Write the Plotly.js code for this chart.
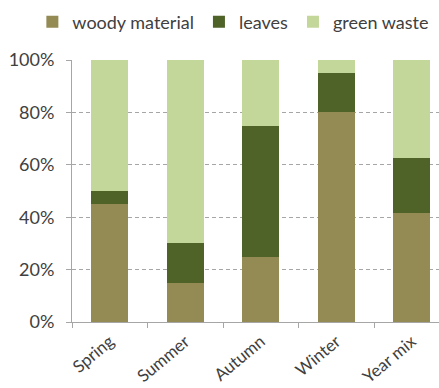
<!DOCTYPE html>
<html><head><meta charset="utf-8">
<script src="https://cdn.plot.ly/plotly-3.0.1.min.js"></script>
<style>html,body{margin:0;padding:0;background:#fff;}#chart{width:439px;height:388px;}</style>
</head><body><div id="chart"></div>
<script>
const categories = ["Spring", "Summer", "Autumn", "Winter", "Year mix"];
const woody = [0.45, 0.15, 0.25, 0.80, 0.415];
const leaves = [0.05, 0.15, 0.50, 0.15, 0.21];
const green = [0.50, 0.70, 0.25, 0.05, 0.375];
const seriesNames = ["woody material", "leaves", "green waste"];
const colors = ["#948A54", "#4F6228", "#C4D79B"];

const fam = "Lato, 'Open Sans', sans-serif";
const txt = "#404040";
const traces = [woody, leaves, green].map((vals, i) => ({
  type: "bar", x: categories, y: vals, name: seriesNames[i],
  marker: {color: colors[i], line: {width: 0}}, width: 0.49
}));

Plotly.newPlot("chart", traces, {
  width: 439, height: 388, barmode: "stack",
  margin: {l: 72, r: 0, t: 60, b: 66, autoexpand: false},
  paper_bgcolor: "#fff", plot_bgcolor: "#fff",
  font: {family: fam, size: 16, color: txt},
  showlegend: true,
  legend: {orientation: "h", x: -0.108, xanchor: "left", xref: "paper", y: 1.215, yref: "paper", yanchor: "top",
    font: {family: fam, size: 18, color: txt}, traceorder: "normal", itemwidth: 30},
  xaxis: {type: "category", range: [-0.5, 4.36], tickson: "boundaries", ticks: "outside", ticklen: 5,
    tickcolor: "#A6A6A6", showline: true, linecolor: "#A6A6A6", linewidth: 1, showgrid: false,
    tickangle: -40, ticklabelstandoff: 2, tickfont: {family: fam, size: 17, color: txt}, fixedrange: true},
  yaxis: {range: [0, 1], tickvals: [0, 0.2, 0.4, 0.6, 0.8, 1], ticktext: ["0%", "20%", "40%", "60%", "80%", "100%"],
    ticks: "outside", ticklen: 5, tickcolor: "#A6A6A6", showline: true, linecolor: "#A6A6A6", linewidth: 1,
    showgrid: true, gridcolor: "#A6A6A6", griddash: "4px,3px", gridwidth: 1, zeroline: false,
    tickfont: {family: fam, size: 18, color: txt}, ticklabelstandoff: 8}
}, {displayModeBar: false, staticPlot: true});
</script></body></html>
